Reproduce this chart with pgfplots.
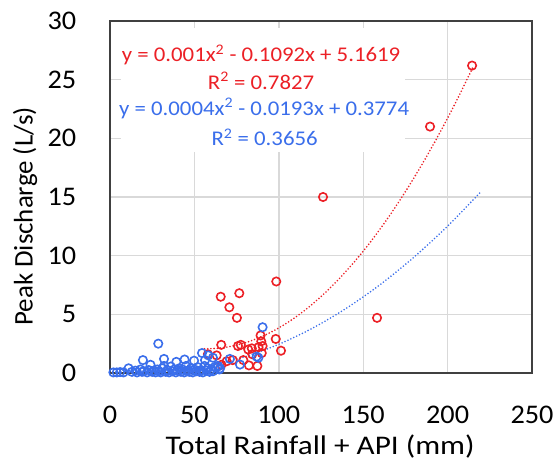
\documentclass[border=0pt]{standalone}
\usepackage{pgfplots}
\pgfplotsset{compat=1.18}
\usepackage{fontspec}
\setmainfont{Carlito}
\definecolor{ptred}{RGB}{236,32,38}
\definecolor{ptblue}{RGB}{58,110,235}
\definecolor{gridgray}{RGB}{217,217,217}
\definecolor{framegray}{RGB}{64,64,64}
\begin{document}
\begin{tikzpicture}
\begin{axis}[
  scale only axis,
  width=422bp, height=352bp,
  xmin=0, xmax=250, ymin=0, ymax=30,
  xtick={0,50,100,150,200,250},
  ytick={0,5,10,15,20,25,30},
  major tick length=0pt,
  grid=major,
  major grid style={gridgray, line width=1.4bp},
  axis line style={framegray, line width=1.6bp},
  /pgf/number format/assume math mode=true,
  tick label style={font=\fontsize{27}{32}\selectfont, inner sep=0pt, xscale=1.05},
  xticklabel style={anchor=center, yshift=-42bp},
  yticklabel style={anchor=east, xshift=-32bp},
  label style={font=\fontsize{27}{32}\selectfont},
  xlabel={Total Rainfall + API (mm)},
  ylabel={Peak Discharge (L/s)},
  xlabel style={at={(axis description cs:0.498,0)}, anchor=center, yshift=-74bp, xscale=1.16},
  ylabel style={at={(axis description cs:0,0.445)}, anchor=center, yshift=85bp},
  clip=false,
]
\fill[white] (axis cs:6.5,18.8) rectangle (axis cs:175,29.4);
% red series
\addplot[only marks, mark=o, mark size=4.2bp, ptred, line width=1.6bp] coordinates {
(214.5,26.2)(189.6,21.0)(126.2,15.0)(158.2,4.7)(98.5,7.8)(65.6,6.5)(76.6,6.8)
(70.7,5.6)(75.2,4.7)(98.2,2.9)(101.3,1.9)(65.9,2.4)(75.8,2.3)(77.5,2.4)
(81.9,2.0)(84,2.1)(88,2.2)(90.4,2.3)(89.2,3.2)(89.6,2.7)(58,1.6)(63.2,1.5)
(69.1,1.0)(72.7,1.1)(82.3,0.65)(87.3,0.6)(89.9,1.7)(84.3,1.6)(79,1.1)(66,0.7)
};
% blue series
\addplot[only marks, mark=o, mark size=4.2bp, ptblue, line width=1.6bp] coordinates {
(2,0.05)(4,0.05)(6,0.08)(8,0.05)(11,0.4)(13,0.1)(15,0.2)(16,0.05)(18,0.3)
(19,0.1)(20,0.15)(22,0.05)(23,0.25)(24,0.7)(25,0.1)(26,0.2)(27,0.05)(28,0.3)
(29,0.15)(30,0.05)(31,0.4)(32,0.6)(33,0.1)(34,0.25)(35,0.05)(36,0.55)(37,0.15)
(38,0.3)(39,0.05)(40,0.2)(41,0.4)(42,0.1)(43,0.3)(44,0.05)(45,0.6)(46,0.2)
(47,0.1)(48,0.4)(49,0.05)(50,0.3)(51,0.15)(52,0.5)(53,0.1)(54,0.25)(55,0.05)
(56,0.6)(57,0.2)(58,0.4)(59,0.1)(60,0.3)(61,0.15)(62,0.5)
(28.6,2.5)(19.5,1.1)(32,1.2)(39.3,0.95)(44.2,1.15)(49.8,1.05)(54.5,1.7)
(58.2,1.5)(56.3,1.1)(61,1.3)(63.8,0.6)(64.8,0.3)(71,1.2)(77,0.72)(87.9,1.3)
(86.9,1.4)(90.4,3.9)(65.2,0.4)(64,0.55)
};
% red trendline
\addplot[ptred, line width=1.8bp, dash pattern=on 0bp off 3.2bp, line cap=round, smooth] coordinates {
(56,2.057)(65,2.120)(75,2.372)(85,2.816)(95,3.452)(105,4.280)(115,5.300)
(125,6.512)(135,7.916)(145,9.512)(155,11.300)(165,13.280)(175,15.452)
(185,17.816)(195,20.372)(205,23.120)(215,26.060)
};
% blue trendline
\addplot[ptblue, line width=1.8bp, dash pattern=on 0bp off 3.2bp, line cap=round, smooth] coordinates {
(2,0.340)(10,0.224)(20,0.151)(30,0.158)(40,0.245)(60,0.659)(80,1.393)
(100,2.447)(120,3.821)(140,5.515)(160,7.529)(180,9.863)(200,12.517)(220,15.491)
};
\node[ptred, font=\fontsize{21}{25}\selectfont, inner sep=0pt, xscale=1.09] at (axis cs:89.5,27.1) {y = 0.001x\textsuperscript{2} - 0.1092x + 5.1619};
\node[ptred, font=\fontsize{21}{25}\selectfont, inner sep=0pt, xscale=1.09] at (axis cs:89.5,24.9) {R\textsuperscript{2} = 0.7827};
\node[ptblue, font=\fontsize{21}{25}\selectfont, inner sep=0pt, xscale=1.09] at (axis cs:91.3,22.56) {y = 0.0004x\textsuperscript{2} - 0.0193x + 0.3774};
\node[ptblue, font=\fontsize{21}{25}\selectfont, inner sep=0pt, xscale=1.09] at (axis cs:91.6,20.1) {R\textsuperscript{2} = 0.3656};
\end{axis}
\pgfresetboundingbox
\path[use as bounding box] ([xshift=-110bp,yshift=-99bp]current axis.south west) rectangle ([xshift=23bp,yshift=21bp]current axis.north east);
\end{tikzpicture}
\end{document}
